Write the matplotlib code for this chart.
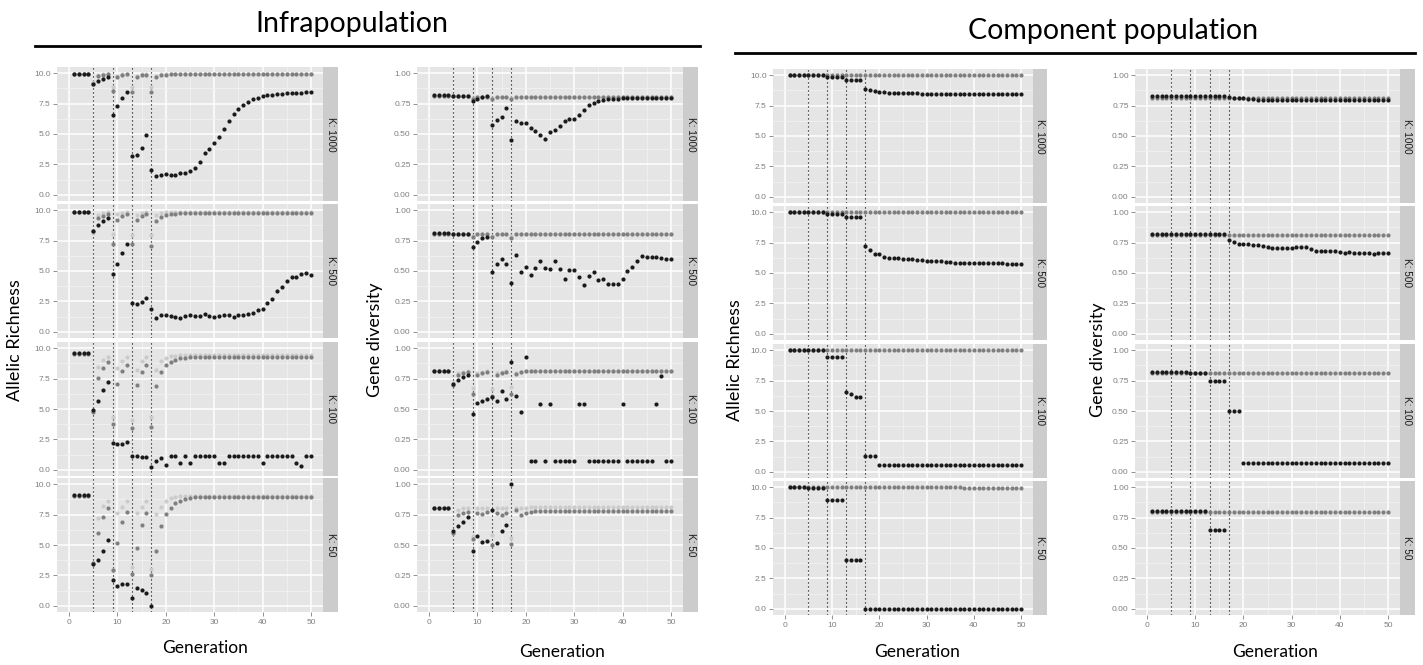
import numpy as np
import matplotlib
matplotlib.use("Agg")
import matplotlib.pyplot as plt
from matplotlib.lines import Line2D

# ---------------- categories / labels ----------------
generation = list(range(1, 51))
k_labels = ["K: 1000", "K: 500", "K: 100", "K: 50"]
bottleneck_gens = [5, 9, 13, 17]
x_ticks = [0, 10, 20, 30, 40, 50]
x_tick_labels = ["0", "10", "20", "30", "40", "50"]
ar_ticks = [0.0, 2.5, 5.0, 7.5, 10.0]
ar_tick_labels = ["0.0", "2.5", "5.0", "7.5", "10.0"]
gd_ticks = [0.0, 0.25, 0.5, 0.75, 1.0]
gd_tick_labels = ["0.00", "0.25", "0.50", "0.75", "1.00"]
N = None

# ---------------- Infrapopulation : Allelic richness ----------------
ar_inf_1000_blk = [9.93, 9.93, 9.93, 9.93, 9.10, 9.38, 9.55, 9.66, 6.52, 7.27,
                   7.93, 8.45, 3.16, 3.27, 3.84, 4.92, 2.05, 1.58, 1.66, 1.68,
                   1.65, 1.62, 1.78, 1.80, 1.98, 2.25, 2.70, 3.40, 3.78, 4.30,
                   4.78, 5.37, 6.08, 6.63, 7.07, 7.37, 7.62, 7.84, 7.97, 8.08,
                   8.17, 8.23, 8.28, 8.32, 8.35, 8.37, 8.39, 8.40, 8.41, 8.41]
ar_inf_1000_drk = [9.93, 9.93, 9.93, 9.93, 9.10, 9.75, 9.85, 9.90, 8.50, 9.70,
                   9.85, 9.90, 8.45, 9.68, 9.83, 9.88, 8.45, 9.68, 9.82, 9.88,
                   9.90, 9.92, 9.93, 9.93, 9.93, 9.93, 9.93, 9.93, 9.93, 9.93,
                   9.93, 9.93, 9.93, 9.93, 9.93, 9.93, 9.93, 9.93, 9.93, 9.93,
                   9.93, 9.93, 9.93, 9.93, 9.93, 9.93, 9.93, 9.93, 9.93, 9.93]
ar_inf_1000_lgt = [9.95, 9.95, 9.95, 9.95, 9.30, 9.82, 9.90, 9.93, 8.85, 9.80,
                   9.90, 9.93, 8.85, 9.78, 9.90, 9.93, 8.85, 9.78, 9.90, 9.93,
                   9.95, 9.95, 9.95, 9.95, 9.95, 9.95, 9.95, 9.95, 9.95, 9.95,
                   9.95, 9.95, 9.95, 9.95, 9.95, 9.95, 9.95, 9.95, 9.95, 9.95,
                   9.95, 9.95, 9.95, 9.95, 9.95, 9.95, 9.95, 9.95, 9.95, 9.95]

ar_inf_500_blk = [9.85, 9.85, 9.85, 9.85, 8.30, 8.80, 9.12, 9.38, 4.78, 5.60,
                  6.48, 7.18, 2.40, 2.32, 2.48, 2.78, 1.89, 1.18, 1.42, 1.37,
                  1.34, 1.26, 1.18, 1.32, 1.40, 1.34, 1.34, 1.50, 1.29, 1.23,
                  1.32, 1.42, 1.37, 1.23, 1.37, 1.40, 1.48, 1.56, 1.78, 1.92,
                  2.38, 2.71, 3.34, 3.70, 4.16, 4.47, 4.50, 4.79, 4.85, 4.66]
ar_inf_500_drk = [9.85, 9.85, 9.85, 9.85, 8.25, 9.35, 9.55, 9.70, 7.25, 9.20,
                  9.50, 9.65, 7.18, 9.15, 9.50, 9.65, 7.02, 9.12, 9.42, 9.58,
                  9.66, 9.72, 9.75, 9.75, 9.75, 9.75, 9.75, 9.75, 9.75, 9.75,
                  9.75, 9.75, 9.75, 9.75, 9.75, 9.75, 9.75, 9.75, 9.75, 9.75,
                  9.75, 9.75, 9.75, 9.75, 9.75, 9.75, 9.75, 9.75, 9.75, 9.75]
ar_inf_500_lgt = [9.88, 9.88, 9.88, 9.88, 8.15, 9.62, 9.76, 9.82, 8.05, 9.65,
                  9.80, 9.85, 7.92, 9.62, 9.80, 9.85, 7.95, 9.60, 9.76, 9.82,
                  9.86, 9.86, 9.86, 9.86, 9.86, 9.86, 9.86, 9.86, 9.86, 9.86,
                  9.86, 9.86, 9.86, 9.86, 9.86, 9.86, 9.86, 9.86, 9.86, 9.86,
                  9.86, 9.86, 9.86, 9.86, 9.86, 9.86, 9.86, 9.86, 9.86, 9.86]

ar_inf_100_blk = [9.60, 9.60, 9.60, 9.60, 4.92, 5.67, 6.53, 7.22, 2.20, 2.10,
                  2.10, 2.25, 1.18, 1.12, 1.05, 1.10, 0.22, 0.70, 0.95, 0.40,
                  1.15, 1.15, 0.55, 1.15, 0.55, 1.15, 1.15, 1.15, 1.15, 1.15,
                  0.55, 0.55, 1.15, 1.15, 1.15, 1.15, 1.15, 1.15, 1.15, 0.55,
                  1.15, 1.15, 1.15, 1.15, 1.15, 1.15, 0.55, 0.30, 1.15, 1.15]
ar_inf_100_drk = [9.55, 9.55, 9.55, 9.55, 4.75, 7.52, 8.40, 8.82, 3.75, 7.05,
                  8.15, 8.65, 3.42, 6.95, 8.05, 8.58, 3.55, 6.88, 8.05, 8.58,
                  8.88, 9.05, 9.15, 9.22, 9.27, 9.30, 9.30, 9.30, 9.30, 9.30,
                  9.30, 9.30, 9.30, 9.30, 9.30, 9.30, 9.30, 9.30, 9.30, 9.30,
                  9.30, 9.30, 9.30, 9.30, 9.30, 9.30, 9.30, 9.30, 9.30, 9.30]
ar_inf_100_lgt = [9.60, 9.60, 9.60, 9.60, 4.85, 8.48, 9.05, 9.28, 4.33, 8.35,
                  8.98, 9.25, 4.08, 8.22, 8.95, 9.25, 4.32, 8.22, 8.95, 9.22,
                  9.32, 9.38, 9.42, 9.42, 9.42, 9.42, 9.42, 9.42, 9.42, 9.42,
                  9.42, 9.42, 9.42, 9.42, 9.42, 9.42, 9.42, 9.42, 9.42, 9.42,
                  9.42, 9.42, 9.42, 9.42, 9.42, 9.42, 9.42, 9.42, 9.42, 9.42]

ar_inf_50_blk = [9.07, 9.07, 9.07, 9.07, 3.46, 3.74, 4.52, 5.38, 2.16, 1.66,
                 1.78, 1.82, 0.68, 1.45, 1.32, 1.02, 0.02, N, N, N,
                 N, N, N, N, N, N, N, N, N, N,
                 N, N, N, N, N, N, N, N, N, N,
                 N, N, N, N, N, N, N, N, N, N]
ar_inf_50_drk = [9.05, 9.05, 9.05, 9.05, 3.52, 5.98, 7.30, 8.02, 2.92, 5.15,
                 6.88, 7.72, 2.60, 4.72, 6.62, 7.60, 2.55, 4.52, 6.52, 7.55,
                 8.06, 8.42, 8.64, 8.78, 8.88, 8.94, 8.98, 8.98, 8.98, 8.98,
                 8.98, 8.98, 8.98, 8.98, 8.98, 8.98, 8.98, 8.98, 8.98, 8.98,
                 8.98, 8.98, 8.98, 8.98, 8.98, 8.98, 8.98, 8.98, 8.98, 8.98]
ar_inf_50_lgt = [9.07, 9.07, 9.07, 9.07, 3.40, 7.20, 8.18, 8.62, 2.95, 7.65,
                 8.15, 8.58, 3.18, 7.62, 8.12, 8.60, 3.02, 7.55, 8.15, 8.60,
                 8.82, 8.92, 9.00, 9.00, 9.00, 9.00, 9.00, 9.00, 9.00, 9.00,
                 9.00, 9.00, 9.00, 9.00, 9.00, 9.00, 9.00, 9.00, 9.00, 9.00,
                 9.00, 9.00, 9.00, 9.00, 9.00, 9.00, 9.00, 9.00, 9.00, 9.00]

# ---------------- Infrapopulation : Gene diversity ----------------
gd_inf_1000_blk = [0.822, 0.822, 0.822, 0.822, 0.815, 0.815, 0.815, 0.815, 0.773, 0.790,
                   0.800, 0.808, 0.573, 0.616, 0.636, 0.712, 0.449, 0.607, 0.590, 0.590,
                   0.548, 0.525, 0.493, 0.458, 0.513, 0.530, 0.565, 0.610, 0.622, 0.625,
                   0.655, 0.700, 0.735, 0.758, 0.772, 0.780, 0.785, 0.788, 0.790, 0.795,
                   0.795, 0.795, 0.795, 0.795, 0.795, 0.795, 0.795, 0.795, 0.795, 0.795]
gd_inf_1000_drk = [0.808, 0.808, 0.808, 0.808, 0.808, 0.808, 0.808, 0.808, 0.785, 0.800,
                   0.800, 0.800, 0.790, 0.800, 0.800, 0.800, 0.790, 0.800, 0.800, 0.800,
                   0.800, 0.800, 0.800, 0.800, 0.800, 0.800, 0.800, 0.800, 0.800, 0.800,
                   0.800, 0.800, 0.800, 0.800, 0.800, 0.800, 0.800, 0.800, 0.800, 0.800,
                   0.800, 0.800, 0.800, 0.800, 0.800, 0.800, 0.800, 0.800, 0.800, 0.800]
gd_inf_1000_lgt = [0.812, 0.812, 0.812, 0.812, 0.812, 0.812, 0.812, 0.812, 0.798, 0.805,
                   0.805, 0.805, 0.797, 0.805, 0.805, 0.805, 0.797, 0.805, 0.805, 0.805,
                   0.805, 0.805, 0.805, 0.805, 0.805, 0.805, 0.805, 0.805, 0.805, 0.805,
                   0.805, 0.805, 0.805, 0.805, 0.805, 0.805, 0.805, 0.805, 0.805, 0.805,
                   0.805, 0.805, 0.805, 0.805, 0.805, 0.805, 0.805, 0.805, 0.805, 0.805]

gd_inf_500_blk = [0.815, 0.815, 0.815, 0.815, 0.805, 0.805, 0.805, 0.805, 0.700, 0.740,
                  0.767, 0.780, 0.490, 0.560, 0.597, 0.556, 0.405, 0.633, 0.488, 0.530,
                  0.465, 0.525, 0.580, 0.525, 0.515, 0.580, 0.520, 0.436, 0.510, 0.505,
                  0.452, 0.384, 0.458, 0.490, 0.425, 0.436, 0.392, 0.392, 0.397, 0.438,
                  0.503, 0.532, 0.586, 0.627, 0.614, 0.614, 0.619, 0.610, 0.600, 0.595]
gd_inf_500_drk = [0.800, 0.800, 0.800, 0.800, 0.800, 0.800, 0.800, 0.800, 0.775, 0.800,
                  0.800, 0.800, 0.775, 0.800, 0.800, 0.800, 0.770, 0.800, 0.800, 0.800,
                  0.800, 0.800, 0.800, 0.800, 0.800, 0.800, 0.800, 0.800, 0.800, 0.800,
                  0.800, 0.800, 0.800, 0.800, 0.800, 0.800, 0.800, 0.800, 0.800, 0.800,
                  0.800, 0.800, 0.800, 0.800, 0.800, 0.800, 0.800, 0.800, 0.800, 0.800]
gd_inf_500_lgt = [0.805, 0.805, 0.805, 0.805, 0.805, 0.805, 0.805, 0.805, 0.790, 0.805,
                  0.805, 0.805, 0.790, 0.805, 0.805, 0.805, 0.790, 0.805, 0.805, 0.805,
                  0.805, 0.805, 0.805, 0.805, 0.805, 0.805, 0.805, 0.805, 0.805, 0.805,
                  0.805, 0.805, 0.805, 0.805, 0.805, 0.805, 0.805, 0.805, 0.805, 0.805,
                  0.805, 0.805, 0.805, 0.805, 0.805, 0.805, 0.805, 0.805, 0.805, 0.805]

gd_inf_100_blk = [0.815, 0.815, 0.815, 0.815, 0.707, 0.740, 0.765, 0.780, 0.463, 0.550,
                  0.567, 0.580, 0.597, 0.565, 0.644, 0.580, 0.885, 0.605, 0.477, 0.923,
                  0.075, 0.075, 0.537, 0.075, 0.537, 0.075, 0.075, 0.075, 0.075, 0.075,
                  0.537, 0.537, 0.075, 0.075, 0.075, 0.075, 0.075, 0.075, 0.075, 0.537,
                  0.075, 0.075, 0.075, 0.075, 0.075, 0.075, 0.537, 0.767, 0.075, 0.075]
gd_inf_100_drk = [0.810, 0.810, 0.810, 0.810, 0.700, 0.782, 0.795, 0.800, 0.625, 0.780,
                  0.795, 0.800, 0.605, 0.780, 0.795, 0.800, 0.622, 0.785, 0.800, 0.810,
                  0.810, 0.810, 0.810, 0.810, 0.810, 0.810, 0.810, 0.810, 0.810, 0.810,
                  0.810, 0.810, 0.810, 0.810, 0.810, 0.810, 0.810, 0.810, 0.810, 0.810,
                  0.810, 0.810, 0.810, 0.810, 0.810, 0.810, 0.810, 0.810, 0.810, 0.810]
gd_inf_100_lgt = [0.815, 0.815, 0.815, 0.815, 0.710, 0.795, 0.805, 0.810, 0.671, 0.795,
                  0.805, 0.810, 0.662, 0.795, 0.805, 0.810, 0.680, 0.795, 0.805, 0.812,
                  0.812, 0.812, 0.812, 0.812, 0.812, 0.812, 0.812, 0.812, 0.812, 0.812,
                  0.812, 0.812, 0.812, 0.812, 0.812, 0.812, 0.812, 0.812, 0.812, 0.812,
                  0.812, 0.812, 0.812, 0.812, 0.812, 0.812, 0.812, 0.812, 0.812, 0.812]

gd_inf_50_blk = [0.800, 0.800, 0.800, 0.800, 0.611, 0.652, 0.690, 0.729, 0.452, 0.570,
                 0.525, 0.530, 0.786, 0.520, 0.616, 0.668, 1.000, N, N, N,
                 N, N, N, N, N, N, N, N, N, N,
                 N, N, N, N, N, N, N, N, N, N,
                 N, N, N, N, N, N, N, N, N, N]
gd_inf_50_drk = [0.800, 0.800, 0.800, 0.800, 0.600, 0.748, 0.765, 0.775, 0.548, 0.765,
                 0.755, 0.770, 0.500, 0.760, 0.745, 0.765, 0.505, 0.789, 0.745, 0.765,
                 0.772, 0.780, 0.780, 0.780, 0.780, 0.780, 0.780, 0.780, 0.780, 0.780,
                 0.780, 0.780, 0.780, 0.780, 0.780, 0.780, 0.780, 0.780, 0.780, 0.780,
                 0.780, 0.780, 0.780, 0.780, 0.780, 0.780, 0.780, 0.780, 0.780, 0.780]
gd_inf_50_lgt = [0.800, 0.800, 0.800, 0.800, 0.595, 0.790, 0.800, 0.805, 0.575, 0.800,
                 0.800, 0.805, 0.578, 0.800, 0.800, 0.805, 0.560, 0.800, 0.800, 0.805,
                 0.810, 0.810, 0.810, 0.810, 0.810, 0.810, 0.810, 0.810, 0.810, 0.810,
                 0.810, 0.810, 0.810, 0.810, 0.810, 0.810, 0.810, 0.810, 0.810, 0.810,
                 0.810, 0.810, 0.810, 0.810, 0.810, 0.810, 0.810, 0.810, 0.810, 0.810]

# ---------------- Component population : Allelic richness ----------------
ar_cmp_1000_blk = [10.0, 10.0, 10.0, 10.0, 10.0, 10.0, 10.0, 10.0, 9.88, 9.88,
                   9.88, 9.88, 9.56, 9.56, 9.56, 9.56, 8.87, 8.76, 8.68, 8.63,
                   8.58, 8.56, 8.55, 8.54, 8.53, 8.52, 8.51, 8.50, 8.48, 8.46,
                   8.46, 8.46, 8.46, 8.46, 8.46, 8.46, 8.46, 8.46, 8.46, 8.46,
                   8.46, 8.46, 8.46, 8.46, 8.46, 8.46, 8.46, 8.46, 8.46, 8.46]
ar_cmp_1000_gry = [10.0, 10.0, 10.0, 10.0, 10.0, 10.0, 10.0, 10.0, 10.0, 10.0,
                   10.0, 10.0, 10.0, 10.0, 10.0, 10.0, 10.0, 10.0, 10.0, 10.0,
                   10.0, 10.0, 10.0, 10.0, 10.0, 10.0, 10.0, 10.0, 10.0, 10.0,
                   10.0, 10.0, 10.0, 10.0, 10.0, 10.0, 10.0, 10.0, 10.0, 10.0,
                   10.0, 10.0, 10.0, 10.0, 10.0, 10.0, 10.0, 10.0, 10.0, 10.0]
ar_cmp_500_blk = [10.0, 10.0, 10.0, 10.0, 10.0, 10.0, 10.0, 10.0, 9.86, 9.86,
                  9.86, 9.86, 9.56, 9.56, 9.56, 9.56, 7.20, 6.92, 6.57, 6.54,
                  6.35, 6.20, 6.20, 6.20, 6.18, 6.15, 6.12, 6.10, 6.10, 5.95,
                  5.95, 5.95, 5.95, 5.93, 5.90, 5.85, 5.83, 5.82, 5.82, 5.82,
                  5.82, 5.82, 5.82, 5.82, 5.80, 5.80, 5.72, 5.72, 5.72, 5.72]
ar_cmp_500_gry = [10.0, 10.0, 10.0, 10.0, 10.0, 10.0, 10.0, 10.0, 10.0, 10.0,
                  10.0, 10.0, 10.0, 10.0, 10.0, 10.0, 10.0, 10.0, 10.0, 10.0,
                  10.0, 10.0, 10.0, 10.0, 10.0, 10.0, 10.0, 10.0, 10.0, 10.0,
                  10.0, 10.0, 10.0, 10.0, 10.0, 10.0, 10.0, 10.0, 10.0, 10.0,
                  10.0, 10.0, 10.0, 10.0, 10.0, 10.0, 10.0, 10.0, 10.0, 10.0]
ar_cmp_100_blk = [10.0, 10.0, 10.0, 10.0, 10.0, 10.0, 10.0, 10.0, 9.43, 9.43,
                  9.43, 9.43, 6.52, 6.41, 6.19, 6.19, 1.29, 1.29, 1.29, 0.58,
                  0.58, 0.58, 0.58, 0.58, 0.58, 0.58, 0.58, 0.58, 0.58, 0.58,
                  0.58, 0.58, 0.58, 0.58, 0.58, 0.58, 0.58, 0.58, 0.58, 0.58,
                  0.58, 0.58, 0.58, 0.58, 0.58, 0.58, 0.58, 0.58, 0.58, 0.58]
ar_cmp_100_gry = [9.98, 9.98, 9.98, 9.98, 9.98, 9.98, 9.98, 9.98, 9.98, 9.98,
                  9.98, 9.98, 9.98, 9.98, 9.98, 9.98, 9.98, 9.98, 9.98, 9.98,
                  9.98, 9.98, 9.98, 9.98, 9.98, 9.98, 9.98, 9.98, 9.98, 9.98,
                  9.98, 9.98, 9.98, 9.98, 9.98, 9.98, 9.98, 9.98, 9.98, 9.98,
                  9.98, 9.98, 9.98, 9.98, 9.98, 9.98, 9.98, 9.98, 9.98, 9.98]
ar_cmp_50_blk = [10.0, 10.0, 10.0, 10.0, 9.89, 9.89, 9.89, 9.89, 8.98, 8.98,
                 8.98, 8.98, 3.98, 3.98, 3.98, 3.98, 0.00, 0.00, 0.00, 0.00,
                 0.00, 0.00, 0.00, 0.00, 0.00, 0.00, 0.00, 0.00, 0.00, 0.00,
                 0.00, 0.00, 0.00, 0.00, 0.00, 0.00, 0.00, 0.00, 0.00, 0.00,
                 0.00, 0.00, 0.00, 0.00, 0.00, 0.00, 0.00, 0.00, 0.00, 0.00]
ar_cmp_50_gry = [9.98, 9.98, 9.98, 9.98, 9.98, 9.98, 9.98, 9.98, 9.98, 9.98,
                 9.98, 9.98, 9.98, 9.98, 9.98, 9.98, 9.98, 9.98, 9.98, 9.98,
                 9.98, 9.98, 9.98, 9.98, 9.98, 9.98, 9.98, 9.98, 9.98, 9.98,
                 9.98, 9.98, 9.98, 9.98, 9.98, 9.98, 9.98, 9.92, 9.92, 9.92,
                 9.92, 9.92, 9.92, 9.92, 9.92, 9.92, 9.92, 9.92, 9.92, 9.92]

# ---------------- Component population : Gene diversity ----------------
gd_cmp_1000_blk = [0.825, 0.825, 0.825, 0.825, 0.825, 0.825, 0.825, 0.825, 0.825, 0.825,
                   0.825, 0.825, 0.825, 0.825, 0.825, 0.825, 0.820, 0.815, 0.812, 0.810,
                   0.805, 0.802, 0.797, 0.797, 0.797, 0.797, 0.797, 0.797, 0.797, 0.797,
                   0.797, 0.797, 0.797, 0.797, 0.797, 0.797, 0.797, 0.797, 0.797, 0.797,
                   0.797, 0.797, 0.797, 0.797, 0.797, 0.797, 0.797, 0.797, 0.797, 0.797]
gd_cmp_1000_gry = [0.810, 0.810, 0.810, 0.810, 0.810, 0.810, 0.810, 0.810, 0.810, 0.810,
                   0.810, 0.810, 0.810, 0.810, 0.810, 0.810, 0.810, 0.810, 0.810, 0.810,
                   0.810, 0.810, 0.810, 0.810, 0.810, 0.810, 0.810, 0.810, 0.810, 0.810,
                   0.810, 0.810, 0.810, 0.810, 0.810, 0.810, 0.810, 0.810, 0.810, 0.810,
                   0.810, 0.810, 0.810, 0.810, 0.810, 0.810, 0.810, 0.810, 0.810, 0.810]
gd_cmp_500_blk = [0.818, 0.818, 0.818, 0.818, 0.818, 0.818, 0.818, 0.818, 0.818, 0.818,
                  0.818, 0.818, 0.818, 0.818, 0.818, 0.818, 0.772, 0.758, 0.739, 0.739,
                  0.736, 0.731, 0.728, 0.725, 0.717, 0.709, 0.703, 0.706, 0.709, 0.709,
                  0.712, 0.714, 0.712, 0.700, 0.684, 0.679, 0.681, 0.684, 0.679, 0.670,
                  0.665, 0.670, 0.668, 0.665, 0.662, 0.662, 0.659, 0.662, 0.662, 0.662]
gd_cmp_500_gry = [0.808, 0.808, 0.808, 0.808, 0.808, 0.808, 0.808, 0.808, 0.808, 0.808,
                  0.808, 0.808, 0.808, 0.808, 0.808, 0.808, 0.808, 0.808, 0.808, 0.808,
                  0.808, 0.808, 0.808, 0.808, 0.808, 0.808, 0.808, 0.808, 0.808, 0.808,
                  0.808, 0.808, 0.808, 0.808, 0.808, 0.808, 0.808, 0.808, 0.808, 0.808,
                  0.808, 0.808, 0.808, 0.808, 0.808, 0.808, 0.808, 0.808, 0.808, 0.808]
gd_cmp_100_blk = [0.818, 0.818, 0.818, 0.818, 0.818, 0.818, 0.818, 0.818, 0.810, 0.810,
                  0.810, 0.810, 0.748, 0.745, 0.745, 0.745, 0.500, 0.500, 0.500, 0.075,
                  0.075, 0.075, 0.075, 0.075, 0.075, 0.075, 0.075, 0.075, 0.075, 0.075,
                  0.075, 0.075, 0.075, 0.075, 0.075, 0.075, 0.075, 0.075, 0.075, 0.075,
                  0.075, 0.075, 0.075, 0.075, 0.075, 0.075, 0.075, 0.075, 0.075, 0.075]
gd_cmp_100_gry = [0.815, 0.815, 0.815, 0.815, 0.815, 0.815, 0.815, 0.815, 0.815, 0.815,
                  0.815, 0.815, 0.815, 0.815, 0.815, 0.815, 0.815, 0.815, 0.815, 0.815,
                  0.815, 0.815, 0.815, 0.815, 0.815, 0.815, 0.815, 0.815, 0.815, 0.815,
                  0.815, 0.815, 0.815, 0.815, 0.815, 0.815, 0.815, 0.815, 0.815, 0.815,
                  0.815, 0.815, 0.815, 0.815, 0.815, 0.815, 0.815, 0.815, 0.815, 0.815]
gd_cmp_50_blk = [0.805, 0.805, 0.805, 0.805, 0.805, 0.805, 0.805, 0.805, 0.805, 0.805,
                 0.805, 0.805, 0.645, 0.645, 0.645, 0.645, N, N, N, N,
                 N, N, N, N, N, N, N, N, N, N,
                 N, N, N, N, N, N, N, N, N, N,
                 N, N, N, N, N, N, N, N, N, N]
gd_cmp_50_gry = [0.795, 0.795, 0.795, 0.795, 0.795, 0.795, 0.795, 0.795, 0.795, 0.795,
                 0.795, 0.795, 0.795, 0.795, 0.795, 0.795, 0.795, 0.795, 0.795, 0.795,
                 0.795, 0.795, 0.795, 0.795, 0.795, 0.795, 0.795, 0.795, 0.795, 0.795,
                 0.795, 0.795, 0.795, 0.795, 0.795, 0.795, 0.795, 0.795, 0.795, 0.795,
                 0.795, 0.795, 0.795, 0.795, 0.795, 0.795, 0.795, 0.795, 0.795, 0.795]

# ---------------- figure ----------------
W, H = 1423, 665
fig = plt.figure(figsize=(W / 100, H / 100), dpi=100)
fig.patch.set_facecolor("white")

LABEL_FONT = ["Lato", "DejaVu Sans"]
TICK_FONT = ["Liberation Sans", "DejaVu Sans"]
C_LIGHT, C_DARK, C_BLACK = "#cbcbcb", "#7f7f7f", "#1a1a1a"


def px_axes(x0, y0, x1, y1):
    return fig.add_axes([x0 / W, 1 - y1 / H, (x1 - x0) / W, (y1 - y0) / H])


groups = [
    dict(x0=57, x1=323, xs=338, tops=[67, 204, 342, 478], h=134,
         ylim=(-0.5, 10.5), yt=ar_ticks, ytl=ar_tick_labels, ymin=[1.25, 3.75, 6.25, 8.75],
         ylab="Allelic Richness", ylx=15, yly=340, xlx=205, xly=648,
         series=[[ar_inf_1000_lgt, ar_inf_1000_drk, ar_inf_1000_blk],
                 [ar_inf_500_lgt, ar_inf_500_drk, ar_inf_500_blk],
                 [ar_inf_100_lgt, ar_inf_100_drk, ar_inf_100_blk],
                 [ar_inf_50_lgt, ar_inf_50_drk, ar_inf_50_blk]]),
    dict(x0=417, x1=683, xs=698, tops=[67, 204, 342, 478], h=134,
         ylim=(-0.05, 1.05), yt=gd_ticks, ytl=gd_tick_labels, ymin=[0.125, 0.375, 0.625, 0.875],
         ylab="Gene diversity", ylx=375, yly=340, xlx=562, xly=652,
         series=[[gd_inf_1000_lgt, gd_inf_1000_drk, gd_inf_1000_blk],
                 [gd_inf_500_lgt, gd_inf_500_drk, gd_inf_500_blk],
                 [gd_inf_100_lgt, gd_inf_100_drk, gd_inf_100_blk],
                 [gd_inf_50_lgt, gd_inf_50_drk, gd_inf_50_blk]]),
    dict(x0=773, x1=1033, xs=1047, tops=[69, 206, 344, 481], h=134,
         ylim=(-0.5, 10.5), yt=ar_ticks, ytl=ar_tick_labels, ymin=[1.25, 3.75, 6.25, 8.75],
         ylab="Allelic Richness", ylx=735, yly=360, xlx=917, xly=652,
         series=[[None, ar_cmp_1000_gry, ar_cmp_1000_blk],
                 [None, ar_cmp_500_gry, ar_cmp_500_blk],
                 [None, ar_cmp_100_gry, ar_cmp_100_blk],
                 [None, ar_cmp_50_gry, ar_cmp_50_blk]]),
    dict(x0=1135, x1=1400, xs=1415, tops=[69, 206, 344, 481], h=134,
         ylim=(-0.05, 1.05), yt=gd_ticks, ytl=gd_tick_labels, ymin=[0.125, 0.375, 0.625, 0.875],
         ylab="Gene diversity", ylx=1098, yly=360, xlx=1275, xly=652,
         series=[[None, gd_cmp_1000_gry, gd_cmp_1000_blk],
                 [None, gd_cmp_500_gry, gd_cmp_500_blk],
                 [None, gd_cmp_100_gry, gd_cmp_100_blk],
                 [None, gd_cmp_50_gry, gd_cmp_50_blk]]),
]

gen = np.array(generation, dtype=float)
for g in groups:
    for i, top in enumerate(g["tops"]):
        bottom = top + g["h"]
        ax = px_axes(g["x0"], top, g["x1"], bottom)
        ax.set_facecolor("#E5E5E5")
        for s in ax.spines.values():
            s.set_visible(False)
        ax.set_xlim(-2.5, 52.5)
        ax.set_ylim(*g["ylim"])
        ax.set_xticks(x_ticks)
        ax.set_xticks([5, 15, 25, 35, 45], minor=True)
        ax.set_yticks(g["yt"])
        ax.set_yticks(g["ymin"], minor=True)
        ax.set_yticklabels(g["ytl"], fontsize=6, color="#7F7F7F", family=TICK_FONT)
        ax.grid(True, which="major", color="white", lw=1.1)
        ax.grid(True, which="minor", color="#F2F2F2", lw=0.6)
        ax.set_axisbelow(True)
        ax.tick_params(which="minor", length=0)
        ax.tick_params(axis="y", which="major", length=3, width=0.6, color="#7F7F7F", pad=1.5)
        last = i == len(g["tops"]) - 1
        if last:
            ax.set_xticklabels(x_tick_labels, fontsize=6, color="#7F7F7F", family=TICK_FONT)
            ax.tick_params(axis="x", which="major", length=3, width=0.6, color="#7F7F7F", pad=2)
        else:
            ax.tick_params(axis="x", which="major", length=0, labelbottom=False)
        for xv in bottleneck_gens:
            ax.axvline(xv, color="black", lw=0.8, ls=(0, (1.0, 2.6)), zorder=2)
        lgt, drk, blk = g["series"][i]
        if lgt is not None:
            ax.scatter(gen, np.array(lgt, dtype=float), s=9, color=C_LIGHT, linewidths=0, zorder=3)
        ax.scatter(gen, np.array(drk, dtype=float), s=9, color=C_DARK, linewidths=0, zorder=4)
        ax.scatter(gen, np.array(blk, dtype=float), s=9, color=C_BLACK, linewidths=0, zorder=5)

        st = px_axes(g["x1"], top, g["xs"], bottom)
        st.set_facecolor("#CCCCCC")
        st.set_xticks([])
        st.set_yticks([])
        for s in st.spines.values():
            s.set_visible(False)
        st.text(0.5, 0.5, k_labels[i], rotation=270, ha="center", va="center",
                fontsize=7.2, color="#1A1A1A", family=TICK_FONT, transform=st.transAxes)

    fig.text(g["ylx"] / W, 1 - g["yly"] / H, g["ylab"], rotation=90, ha="center", va="center",
             fontsize=13, family=LABEL_FONT, color="black")
    fig.text(g["xlx"] / W, 1 - g["xly"] / H, "Generation", ha="center", va="center",
             fontsize=12.5, family=LABEL_FONT, color="black")

# section titles with rules
fig.text(352 / W, 1 - 24 / H, "Infrapopulation", ha="center", va="center",
         fontsize=20.5, family=LABEL_FONT, color="black")
fig.add_artist(Line2D([35 / W, 700 / W], [1 - 46 / H, 1 - 46 / H], color="black", lw=2))
fig.text(1113 / W, 1 - 31 / H, "Component population", ha="center", va="center",
         fontsize=20.5, family=LABEL_FONT, color="black")
fig.add_artist(Line2D([735 / W, 1415 / W], [1 - 53 / H, 1 - 53 / H], color="black", lw=2))

fig.savefig("out.png", dpi=100, facecolor="white")
